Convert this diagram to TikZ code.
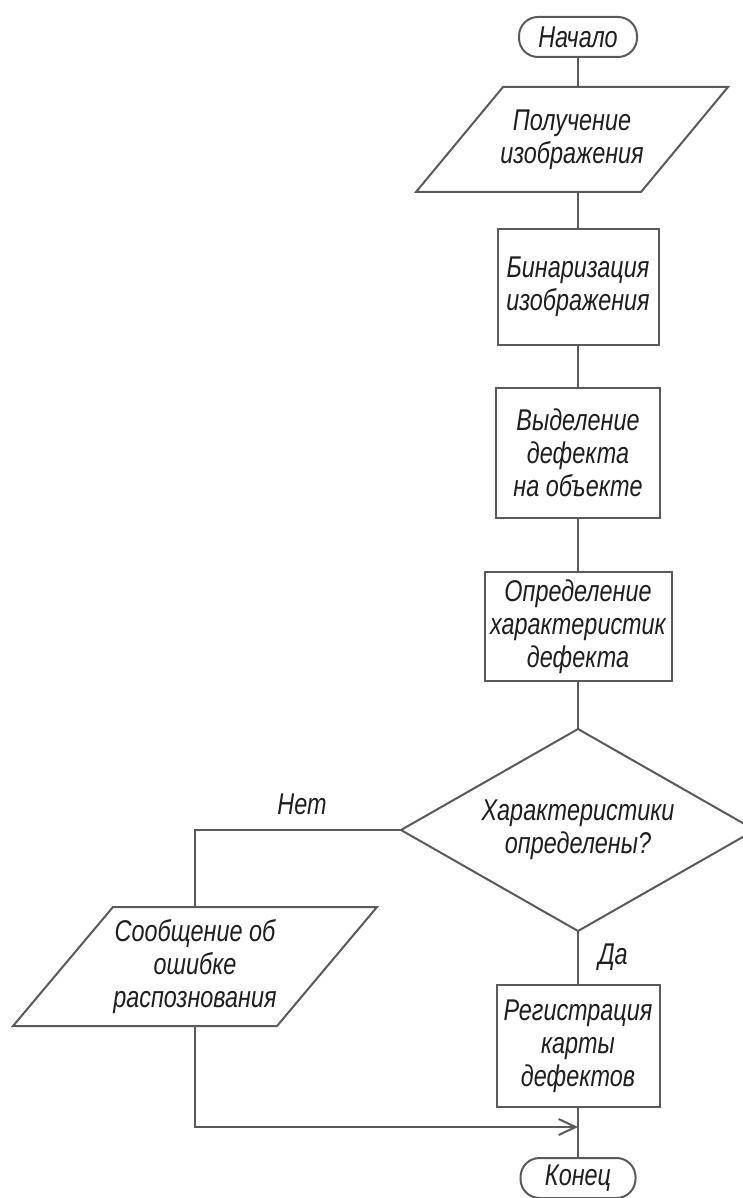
\documentclass[tikz,border=0pt]{standalone}
\usepackage{fontspec}
\setmainfont{Liberation Sans}[FakeStretch=0.78]
\usetikzlibrary{shapes.geometric,calc,arrows.meta}
\definecolor{linegray}{HTML}{5A5A5A}
\definecolor{inkblack}{HTML}{1E1E1E}
\begin{document}
\begin{tikzpicture}[x=1pt,y=-1pt,
  every node/.style={font=\fontsize{30}{33}\selectfont\itshape, text=inkblack, align=center, inner sep=0pt, outer sep=0pt},
  flow/.style={draw=linegray, line width=2pt},
  terminal/.style={flow, rectangle, rounded corners=19pt, minimum height=40pt},
  procbox/.style={flow, rectangle},
  iobody/.style={rectangle, draw=none},
  decision/.style={flow, diamond, aspect=1.75, minimum width=354pt, minimum height=202pt},
  tag/.style={font=\fontsize{30}{33}\selectfont\itshape}
]
\useasboundingbox (0,0) rectangle (743,1198);
\clip (0,0) rectangle (743,1198);
\fill[white] (0,0) rectangle (743,1198);

% main column
\node[terminal, minimum width=118pt] (start) at (578,37) {Начало};

\node[iobody, minimum width=225pt, minimum height=105pt] (p1) at (572,139.5) {Получение\\изображения};
\draw[flow] ($(p1.south west)+(-43.5,0)$) -- ($(p1.south east)+(-43.5,0)$)
  -- ($(p1.north east)+(43.5,0)$) -- ($(p1.north west)+(43.5,0)$) -- cycle;

\node[procbox, minimum width=161pt, minimum height=116pt] (b2) at (578,287) {Бинаризация\\изображения};
\node[procbox, minimum width=164pt, minimum height=130pt] (b3) at (578,453) {Выделение\\дефекта\\на объекте};
\node[procbox, minimum width=187pt, minimum height=109pt] (b4) at (578,626.5) {Определение\\характеристик\\дефекта};
\node[decision] (d) at (578,830) {Характеристики\\определены?};
\node[procbox, minimum width=163pt, minimum height=122pt] (b5) at (578,1046) {Регистрация\\карты\\дефектов};
\node[terminal, minimum width=115pt] (end) at (578,1178) {Конец};

% error branch
\node[iobody, minimum width=264pt, minimum height=119pt] (p2) at (195,966.5) {Сообщение об\\ошибке\\распознования};
\draw[flow] ($(p2.south west)+(-50,0)$) -- ($(p2.south east)+(-50,0)$)
  -- ($(p2.north east)+(50,0)$) -- ($(p2.north west)+(50,0)$) -- cycle;

\coordinate (join) at (578,1127);

% connectors
\draw[flow] (start.south) -- (start.south |- p1.north);
\draw[flow] (b2.north |- p1.south) -- (b2.north);
\draw[flow] (b2.south) -- (b3.north);
\draw[flow] (b3.south) -- (b4.north);
\draw[flow] (b4.south) -- (d.north);
\draw[flow] (d.south) -- (b5.north);
\draw[flow] (b5.south) -- (end.north);
\draw[flow] (d.west) -| (p2.north);
\draw[flow, -{Straight Barb[length=17pt, width=16pt, line width=2pt]}] (p2.south) |- (join);

% branch labels
\node[tag] (no) at (302,804) {Нет};
\node[tag] (yes) at (613,957) {Да};
\end{tikzpicture}
\end{document}
